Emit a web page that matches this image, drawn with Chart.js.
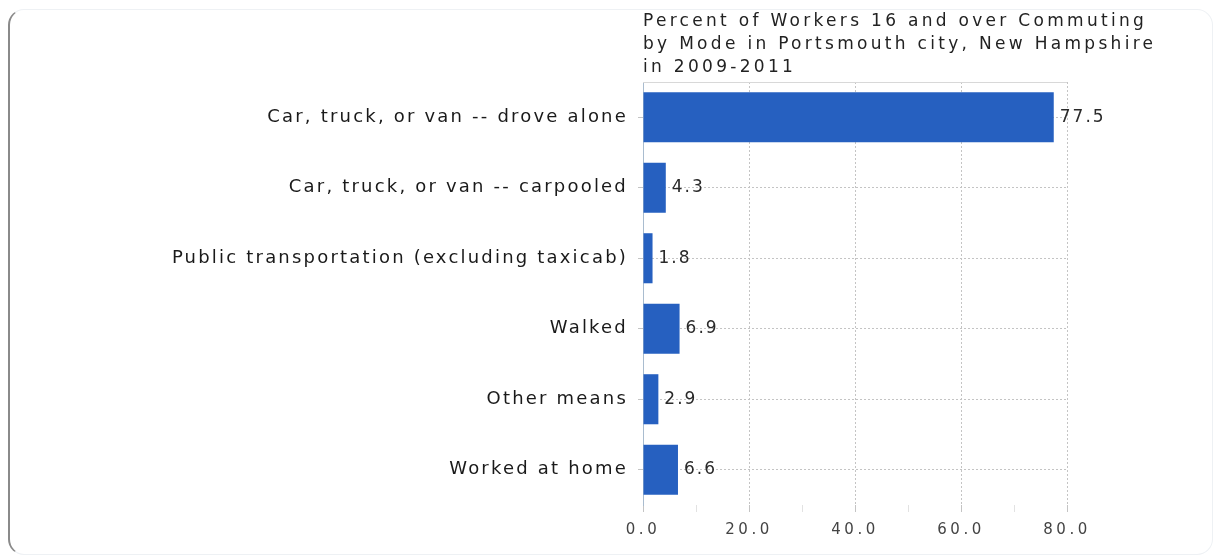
<!DOCTYPE html>
<html>
<head>
<meta charset="utf-8">
<script src="https://cdn.jsdelivr.net/npm/chart.js@4/dist/chart.umd.min.js"></script>
<style>
  html, body { margin: 0; padding: 0; background: #fff; }
  #wrap { position: relative; width: 1225px; height: 557px; }
  #frame {
    position: absolute; left: 8px; top: 9px; width: 1205px; height: 546px;
    border: 1px solid #eef1f4; border-left: 2px solid #8a8a8a;
    border-radius: 16px; box-sizing: border-box;
  }
  canvas { position: absolute; left: 0; top: 0; }
</style>
</head>
<body>
<div id="wrap">
  <div id="frame"></div>
  <canvas id="chart" width="1225" height="557"></canvas>
</div>
<script>
// 通勤方式
const modes = [
  'Car, truck, or van -- drove alone',
  'Car, truck, or van -- carpooled',
  'Public transportation (excluding taxicab)',
  'Walked',
  'Other means',
  'Worked at home'
];
const percents = [77.5, 4.3, 1.8, 6.9, 2.9, 6.6];
const xTicks = [0, 20, 40, 60, 80];
const xMinorTicks = [10, 30, 50, 70];
const titleLines = [
  'Percent of Workers 16 and over Commuting',
  'by Mode in Portsmouth city, New Hampshire',
  'in 2009-2011'
];

const FONT = 'DejaVu Sans';

// 各部分文字的字间距
const spacing = {
  id: 'spacing',
  afterLayout(chart) {
    const ctx = chart.ctx;
    const t = chart.titleBlock;
    if (t && !t._spaced) {
      const orig = t.draw;
      t.draw = function(area) {
        const r = this.right;
        this.right = this.left + 560; // 标题比图区宽
        ctx.letterSpacing = '3.3px';
        orig.call(this, area);
        ctx.letterSpacing = '0px';
        this.right = r;
      };
      t._spaced = true;
    }
    [['y', '2.2px'], ['x', '3.5px']].forEach(([id, ls]) => {
      const s = chart.scales[id];
      if (!s || s._spaced) return;
      const orig = s.drawLabels;
      s.drawLabels = function(area) {
        ctx.letterSpacing = ls;
        orig.call(this, area);
        ctx.letterSpacing = '0px';
      };
      s._spaced = true;
    });
  }
};

// 数值标签和图区上边框
const valueLabels = {
  id: 'valueLabels',
  afterDatasetsDraw(chart) {
    const ctx = chart.ctx;
    const a = chart.chartArea;
    ctx.save();
    ctx.strokeStyle = '#d8d8d8';
    ctx.lineWidth = 1;
    ctx.beginPath();
    ctx.moveTo(a.left, a.top + 0.5);
    ctx.lineTo(a.right, a.top + 0.5);
    ctx.stroke();
    ctx.fillStyle = '#2a2a2a';
    ctx.font = '17px ' + FONT;
    ctx.letterSpacing = '2px';
    ctx.textBaseline = 'middle';
    chart.getDatasetMeta(0).data.forEach((bar, i) => {
      ctx.fillText(percents[i].toFixed(1), bar.x + 6, bar.y);
    });
    ctx.restore();
  }
};

new Chart(document.getElementById('chart').getContext('2d'), {
  type: 'bar',
  data: {
    labels: modes,
    datasets: [{
      data: percents,
      backgroundColor: '#2660c0',
      borderWidth: 0,
      barPercentage: 0.71,
      categoryPercentage: 1
    }]
  },
  options: {
    indexAxis: 'y',
    responsive: false,
    animation: false,
    layout: { padding: { left: 0, right: 158, top: 0, bottom: 0 } },
    plugins: {
      legend: { display: false },
      tooltip: { enabled: false },
      title: {
        display: true,
        text: titleLines,
        align: 'start',
        fullSize: false,
        color: '#222',
        font: { family: FONT, size: 17, weight: 'normal', lineHeight: 1.353 },
        padding: { top: 10, bottom: 3 }
      }
    },
    scales: {
      x: {
        min: 0,
        max: 80,
        afterBuildTicks(scale) {
          scale.ticks = xTicks.concat(xMinorTicks).sort((a, b) => a - b).map(v => ({ value: v }));
        },
        afterFit(scale) { scale.height = 52; },
        border: { display: false, dash: [2, 2] },
        grid: {
          color: (c) => (c.tick && (c.tick.value === 0 || xMinorTicks.includes(c.tick.value))) ? 'rgba(0,0,0,0)' : '#c4c4c4',
          tickColor: (c) => (c.tick && xMinorTicks.includes(c.tick.value)) ? '#e2e2e2' : '#c4c4c4',
          drawTicks: true,
          tickLength: 7
        },
        ticks: {
          color: '#444',
          font: { family: FONT, size: 15 },
          padding: 9,
          autoSkip: false,
          maxRotation: 0,
          callback: (v) => xMinorTicks.includes(v) ? '' : Number(v).toFixed(1)
        }
      },
      y: {
        afterFit(scale) { scale.width = 643; },
        border: { display: true, color: '#a9bccf', width: 1, dash: [2, 2] },
        grid: {
          offset: false,
          color: '#c4c4c4',
          drawTicks: true,
          tickLength: 5
        },
        ticks: {
          color: '#1a1a1a',
          font: { family: FONT, size: 18 },
          padding: 10
        }
      }
    }
  },
  plugins: [spacing, valueLabels]
});
</script>
</body>
</html>
